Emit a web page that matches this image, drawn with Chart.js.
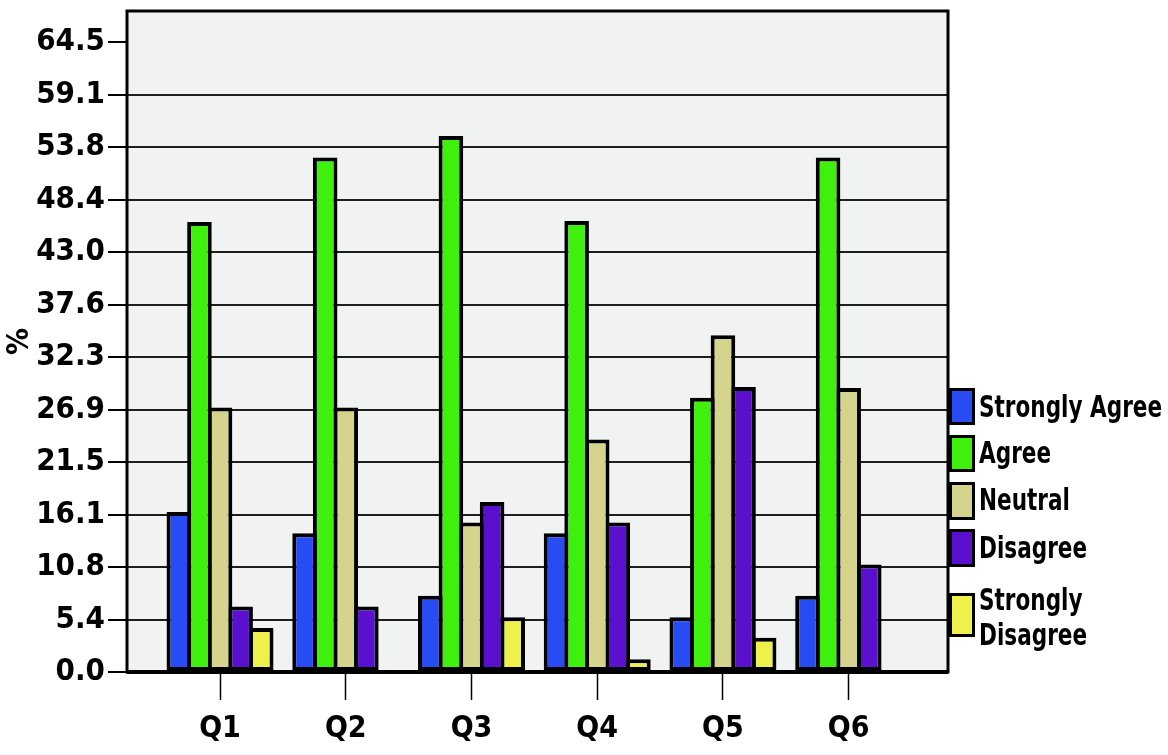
<!DOCTYPE html>
<html>
<head>
<meta charset="utf-8">
<script src="https://cdn.jsdelivr.net/npm/chart.js@4.4.1/dist/chart.umd.min.js"></script>
<style>
    html, body { margin: 0; padding: 0; background: #ffffff; }
    #wrap { position: relative; width: 1168px; height: 755px; }
    #legend { position: absolute; left: 0; top: 0; }
    .swatch { position: absolute; box-sizing: border-box; border: 3px solid #000; }
    .label {
        position: absolute; white-space: nowrap; color: #000;
        font-family: 'Liberation Sans Narrow', 'DejaVu Sans Condensed', 'Arial Narrow', sans-serif;
        font-weight: bold; font-size: 30px; line-height: 34px;
        transform-origin: left center;
    }
</style>
</head>
<body>
<div id="wrap">
    <canvas id="chart" width="1168" height="755"></canvas>
    <div id="legend"></div>
</div>
<script>
// ---- data ----
const categories = ['Q1', 'Q2', 'Q3', 'Q4', 'Q5', 'Q6'];
const stronglyAgree = [16.4, 14.2, 7.8, 14.2, 5.6, 7.8];
const agree = [46.1, 52.7, 54.9, 46.2, 28.1, 52.7];
const neutral = [27.1, 27.1, 15.3, 23.8, 34.5, 29.1];
const disagree = [6.7, 6.7, 17.4, 15.3, 29.2, 11.0];
const stronglyDisagree = [4.5, null, 5.6, 1.3, 3.5, null];

const seriesNames = ['Strongly Agree', 'Agree', 'Neutral', 'Disagree', 'Strongly Disagree'];
const seriesColors = ['#284cf4', '#3ef00c', '#d4d48c', '#5a10cc', '#eef04c'];

const yTickValues = [0, 5.375, 10.75, 16.125, 21.5, 26.875, 32.25, 37.625, 43, 48.375, 53.75, 59.125, 64.5];
const yTickLabels = ['0.0', '5.4', '10.8', '16.1', '21.5', '26.9', '32.3', '37.6', '43.0', '48.4', '53.8', '59.1', '64.5'];

const FONT = "'Liberation Sans Narrow', 'DejaVu Sans Condensed', 'Arial Narrow', sans-serif";

function toPoints(values) {
    return values.map((v, i) => ({ x: i, y: v }));
}

const allSeries = [stronglyAgree, agree, neutral, disagree, stronglyDisagree];

// plot background + frame, SPSS style
const framePlugin = {
    id: 'frame',
    beforeDraw(chart) {
        const a = chart.chartArea;
        const ctx = chart.ctx;
        ctx.save();
        ctx.fillStyle = '#f1f2f2';
        ctx.fillRect(a.left, a.top, a.right - a.left, a.bottom - a.top);
        ctx.restore();
    },
    afterDatasetsDraw(chart) {
        const a = chart.chartArea;
        const ctx = chart.ctx;
        ctx.save();
        ctx.strokeStyle = '#000';
        ctx.lineWidth = 3;
        ctx.strokeRect(a.left, a.top, a.right - a.left, a.bottom - a.top);
        ctx.lineWidth = 4;
        ctx.beginPath();
        ctx.moveTo(a.left, a.bottom);
        ctx.lineTo(a.right, a.bottom);
        ctx.stroke();
        ctx.restore();
    }
};

const chart = new Chart(document.getElementById('chart'), {
    type: 'bar',
    data: {
        datasets: allSeries.map((s, i) => ({
            label: seriesNames[i],
            data: toPoints(s),
            backgroundColor: seriesColors[i],
            borderColor: '#000',
            borderWidth: 4,
            borderSkipped: false,
            barPercentage: 1.194,
            categoryPercentage: 0.819
        }))
    },
    options: {
        responsive: false,
        animation: false,
        devicePixelRatio: 1,
        layout: {
            padding: { top: 11, right: 220, left: 0, bottom: 0 }
        },
        plugins: {
            legend: { display: false },
            tooltip: { enabled: false }
        },
        scales: {
            x: {
                type: 'linear',
                min: -0.74,
                max: 5.79,
                offset: false,
                border: { display: false },
                grid: {
                    offset: false,
                    drawOnChartArea: false,
                    drawTicks: true,
                    tickLength: 28,
                    tickColor: '#000',
                    tickWidth: 1.5
                },
                afterBuildTicks(scale) {
                    scale.ticks = categories.map((c, i) => ({ value: i }));
                },
                afterFit(scale) {
                    scale.height = 755 - 672;
                    scale.paddingLeft = 0;
                    scale.paddingRight = 0;
                },
                ticks: {
                    autoSkip: false,
                    maxRotation: 0,
                    padding: 11,
                    color: '#000',
                    font: { family: FONT, weight: 'bold', size: 30 },
                    callback: (value) => categories[value]
                }
            },
            y: {
                min: 0,
                max: 67.7,
                border: { display: false },
                grid: {
                    color: (ctx) => (ctx.tick && ctx.tick.value === 64.5 ? 'rgba(0,0,0,0)' : '#1e1e1e'),
                    lineWidth: 2,
                    tickLength: 19,
                    tickColor: '#000',
                    tickWidth: 2
                },
                afterBuildTicks(scale) {
                    scale.ticks = yTickValues.map(v => ({ value: v }));
                },
                afterFit(scale) {
                    scale.width = 127;
                    scale.paddingTop = 0;
                    scale.paddingBottom = 0;
                },
                title: {
                    display: true,
                    text: '%',
                    color: '#000',
                    padding: { top: 2, bottom: 0 },
                    font: { family: FONT, weight: 'bold', size: 30 }
                },
                ticks: {
                    padding: 3,
                    color: '#000',
                    font: { family: FONT, weight: 'bold', size: 31 },
                    callback: (value) => {
                        const idx = yTickValues.indexOf(value);
                        return idx >= 0 ? yTickLabels[idx] : '';
                    }
                }
            }
        }
    },
    plugins: [framePlugin]
});

// legend to the right of the frame, built from the datasets
const legendLayout = [
    { box: [949, 388, 26, 37], lines: [407] },
    { box: [949, 435, 26, 37], lines: [453] },
    { box: [949, 482, 26, 38], lines: [500] },
    { box: [949, 529, 26, 38], lines: [548] },
    { box: [949, 593, 26, 44], lines: [600, 635] }
];
const legendEl = document.getElementById('legend');
const labelEls = [];
chart.data.datasets.forEach((ds, i) => {
    const L = legendLayout[i];
    const sw = document.createElement('div');
    sw.className = 'swatch';
    sw.style.left = L.box[0] + 'px';
    sw.style.top = L.box[1] + 'px';
    sw.style.width = L.box[2] + 'px';
    sw.style.height = L.box[3] + 'px';
    sw.style.background = ds.backgroundColor;
    legendEl.appendChild(sw);
    const words = L.lines.length > 1 ? ds.label.split(' ') : [ds.label];
    words.forEach((w, j) => {
        const t = document.createElement('div');
        t.className = 'label';
        t.textContent = w;
        t.style.left = '979px';
        t.style.top = (L.lines[j] - 17) + 'px';
        legendEl.appendChild(t);
        labelEls.push(t);
    });
});
// squeeze the legend text to the narrow width of the original
const squeeze = Math.min(1, 183 / labelEls[0].offsetWidth);
labelEls.forEach(t => { t.style.transform = 'scaleX(' + squeeze + ')'; });
</script>
</body>
</html>
